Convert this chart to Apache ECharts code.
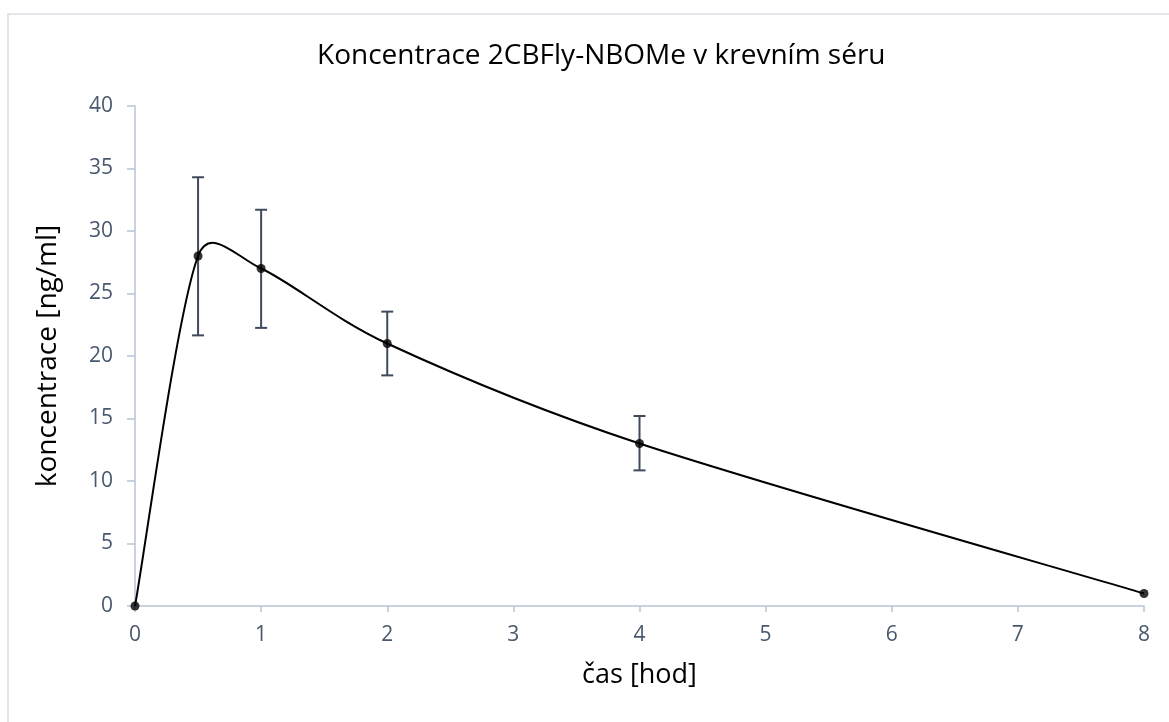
<!DOCTYPE html>
<html lang="cs">
<head>
    <meta charset="UTF-8">
    <title>Koncentrace 2CBFly-NBOMe</title>
    <script src="https://cdn.jsdelivr.net/npm/echarts@6/dist/echarts.min.js"></script>
    <style>
        html, body { margin: 0; padding: 0; background: #fff; }
    </style>
</head>
<body>

<div id="wrap" style="width: 1169px; height: 722px;"></div>

<script>
    // čas odběru [hod]
    var time_hours = [0, 0.5, 1, 2, 4, 8];
    // průměrná koncentrace [ng/ml]
    var conc_mean = [0, 28, 27, 21, 13, 1];
    // horní a dolní mez chybových úseček
    var err_high = [null, 34.3, 31.7, 23.55, 15.2, null];
    var err_low = [null, 21.65, 22.25, 18.45, 10.85, null];

    var line_data = [];
    var err_data = [];
    for (var i = 0; i < time_hours.length; i++) {
        line_data.push([time_hours[i], conc_mean[i]]);
        if (err_high[i] !== null) {
            err_data.push([time_hours[i], err_low[i], err_high[i]]);
        }
    }

    var axisColor = '#b8c3d5';
    var labelColor = '#4a586e';
    var fontName = '"Open Sans", "Noto Sans", sans-serif';

    function dist(a, b) {
        return Math.sqrt((a[0] - b[0]) * (a[0] - b[0]) + (a[1] - b[1]) * (a[1] - b[1]));
    }

    // vyhlazená křivka podobná Excelu, segment od bodu i k i+1
    function renderSmooth(params, api) {
        var n = line_data.length;
        var idx = params.dataIndex;
        if (idx >= n - 1) {
            return null;
        }
        var pt = function (k) {
            k = Math.max(0, Math.min(n - 1, k));
            return api.coord(line_data[k]);
        };
        var p0 = pt(idx - 1), p1 = pt(idx), p2 = pt(idx + 1), p3 = pt(idx + 2);
        var dPrev = dist(p0, p1), dCur = dist(p1, p2), dNext = dist(p2, p3);
        // zkrácení tečny, když jsou sousední úseky hodně rozdílné
        var k1 = dPrev > 0 ? Math.sqrt(Math.min(1, 2 * dCur / (dPrev + dCur))) / 6 : 1 / 6;
        var k2 = dNext > 0 ? Math.sqrt(Math.min(1, 2 * dCur / (dCur + dNext))) / 6 : 1 / 6;
        var c1 = [p1[0] + (p2[0] - p0[0]) * k1, p1[1] + (p2[1] - p0[1]) * k1];
        var c2 = [p2[0] - (p3[0] - p1[0]) * k2, p2[1] - (p3[1] - p1[1]) * k2];
        return {
            type: 'bezierCurve',
            shape: {
                x1: p1[0], y1: p1[1],
                x2: p2[0], y2: p2[1],
                cpx1: c1[0], cpy1: c1[1],
                cpx2: c2[0], cpy2: c2[1]
            },
            style: { stroke: '#000', lineWidth: 2, fill: null }
        };
    }

    var myChart = echarts.init(document.getElementById("wrap"));

    var option = {
        animation: false,
        backgroundColor: '#fff',
        graphic: [{
            type: 'rect',
            shape: { x: 8, y: 14, width: 1200, height: 760 },
            style: { fill: 'none', stroke: '#d9dee5', lineWidth: 1.5 },
            silent: true
        }],
        title: {
            text: 'Koncentrace 2CBFly-NBOMe v krevním séru',
            left: 312,
            top: 37,
            textStyle: {
                fontFamily: fontName,
                fontWeight: 'normal',
                fontSize: 28,
                color: '#000'
            }
        },
        grid: {
            left: 135,
            right: 25,
            top: 106,
            bottom: 116
        },
        xAxis: {
            type: 'value',
            min: 0,
            max: 8,
            interval: 1,
            name: 'čas [hod]',
            nameLocation: 'middle',
            nameGap: 56,
            nameTextStyle: { fontFamily: fontName, fontSize: 27, color: '#000' },
            axisLine: { lineStyle: { color: axisColor, width: 1.5 } },
            axisTick: { show: true, length: 6, lineStyle: { color: axisColor, width: 1.5 } },
            splitLine: { show: false },
            axisLabel: { fontFamily: fontName, fontSize: 21, color: labelColor, margin: 19 }
        },
        yAxis: {
            type: 'value',
            min: 0,
            max: 40,
            interval: 5,
            name: 'koncentrace [ng/ml]',
            nameLocation: 'middle',
            nameGap: 73,
            nameTextStyle: { fontFamily: fontName, fontSize: 28, color: '#000' },
            axisLine: { show: true, lineStyle: { color: axisColor, width: 1.5 } },
            axisTick: { show: true, length: 8, lineStyle: { color: axisColor, width: 1.5 } },
            splitLine: { show: false },
            axisLabel: { fontFamily: fontName, fontSize: 21, color: labelColor, margin: 22 }
        },
        series: [{
            name: 'křivka',
            type: 'custom',
            data: line_data,
            renderItem: renderSmooth,
            z: 3
        }, {
            name: 'chyba',
            type: 'custom',
            data: err_data,
            z: 2,
            renderItem: function (params, api) {
                var x = api.value(0);
                var lo = api.coord([x, api.value(1)]);
                var hi = api.coord([x, api.value(2)]);
                var cap = 6;
                var st = { stroke: '#3f4a5c', lineWidth: 2 };
                return {
                    type: 'group',
                    children: [
                        { type: 'line', shape: { x1: hi[0], y1: hi[1], x2: lo[0], y2: lo[1] }, style: st },
                        { type: 'line', shape: { x1: hi[0] - cap, y1: hi[1], x2: hi[0] + cap, y2: hi[1] }, style: st },
                        { type: 'line', shape: { x1: lo[0] - cap, y1: lo[1], x2: lo[0] + cap, y2: lo[1] }, style: st }
                    ]
                };
            }
        }, {
            name: 'koncentrace',
            type: 'scatter',
            data: line_data,
            symbol: 'circle',
            symbolSize: 9,
            itemStyle: { color: '#000' },
            z: 4
        }]
    };

    myChart.setOption(option);
</script>
</body>
</html>
